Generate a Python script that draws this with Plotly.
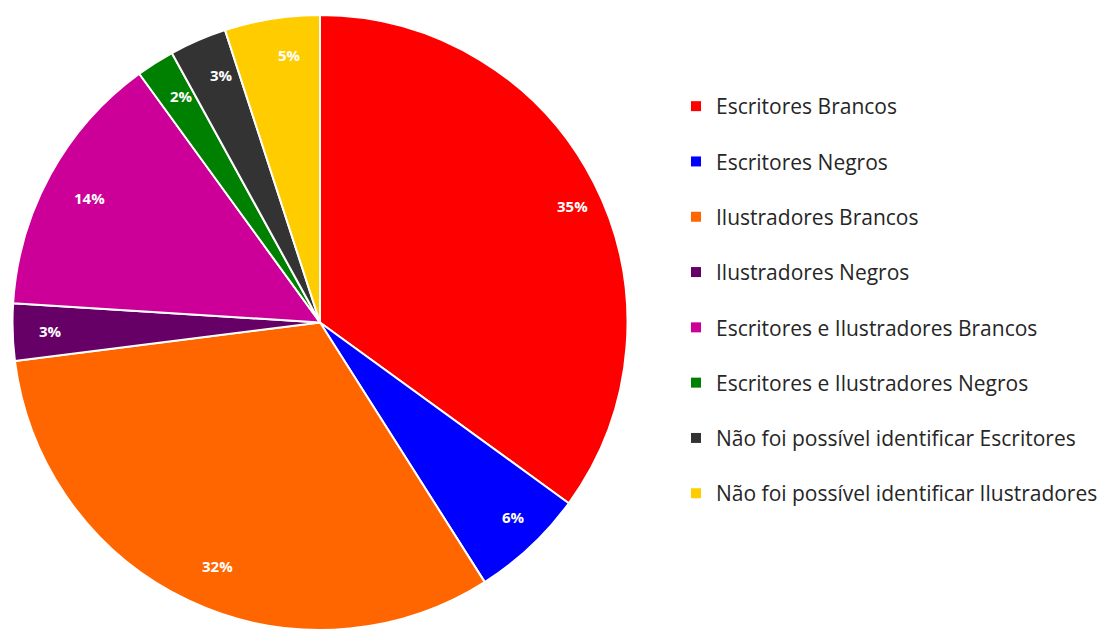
import math
import plotly.graph_objects as go

# Share of authors/illustrators by group (percent)
categories = [
    "Escritores Brancos",
    "Escritores Negros",
    "Ilustradores Brancos",
    "Ilustradores Negros",
    "Escritores e Ilustradores Brancos",
    "Escritores e Ilustradores Negros",
    "Não foi possível identificar Escritores",
    "Não foi possível identificar Ilustradores",
]
values = [35, 6, 32, 3, 14, 2, 3, 5]
colors = ["#FF0000", "#0000FF", "#FF6600", "#660066",
          "#CC0099", "#008000", "#333333", "#FFCC00"]

W, H = 1105, 630
dom_x = [12.5 / W, 627.5 / W]
dom_y = [0.0, 615 / H]

fig = go.Figure()
fig.add_trace(go.Pie(
    labels=categories,
    values=values,
    sort=False,
    direction="clockwise",
    rotation=0,
    marker=dict(colors=colors, line=dict(color="white", width=2)),
    textinfo="none",
    hoverinfo="label+percent",
    showlegend=False,
    domain=dict(x=dom_x, y=dom_y),
))

# Percentage labels near the rim of each slice
cx = (dom_x[0] + dom_x[1]) / 2 * W
cy = (dom_y[0] + dom_y[1]) / 2 * H
radius = min((dom_x[1] - dom_x[0]) * W, (dom_y[1] - dom_y[0]) * H) / 2
total = sum(values)
start = 0.0
for v in values:
    mid = (start + v / 2) / total * 2 * math.pi
    start += v
    rl = radius * 0.92
    fig.add_annotation(
        x=(cx + rl * math.sin(mid)) / W,
        y=(cy + rl * math.cos(mid)) / H,
        xref="paper", yref="paper",
        text=f"<b>{v}%</b>",
        showarrow=False,
        font=dict(family="Open Sans, sans-serif", size=15, color="white"),
    )

# Legend entries, one group each so they can be spaced apart
for i, (name, col) in enumerate(zip(categories, colors)):
    fig.add_trace(go.Scatter(
        x=[None], y=[None], mode="markers", name=name,
        marker=dict(symbol="square", size=10, color=col),
        legendgroup=f"g{i}", showlegend=True,
    ))

fig.update_layout(
    width=W, height=H,
    margin=dict(l=0, r=0, t=0, b=0),
    paper_bgcolor="white",
    plot_bgcolor="white",
    xaxis=dict(visible=False),
    yaxis=dict(visible=False),
    legend=dict(
        x=676 / W, y=1 - 86 / H, xanchor="left", yanchor="top",
        font=dict(family="Open Sans, sans-serif", size=21, color="#262626"),
        tracegroupgap=25,
        itemclick=False, itemdoubleclick=False,
        bgcolor="rgba(0,0,0,0)",
    ),
)

fig.write_html("out.html")
